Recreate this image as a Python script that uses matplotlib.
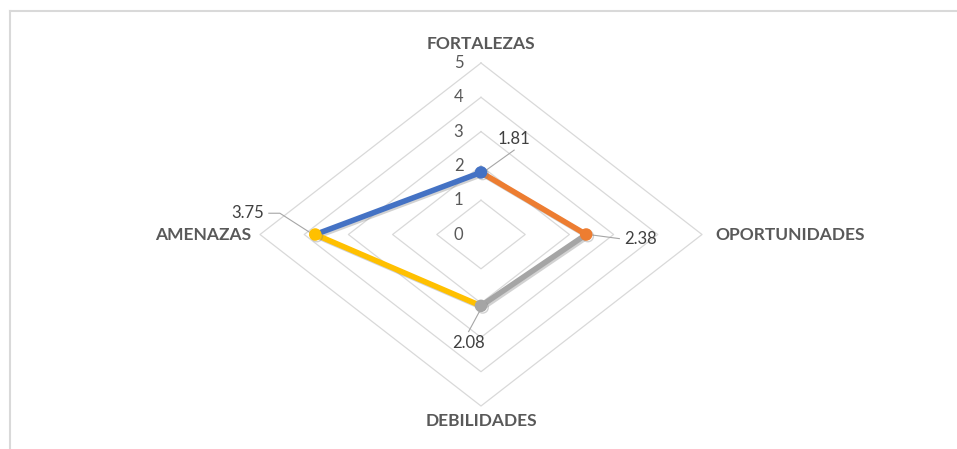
import numpy as np
import matplotlib
matplotlib.use("Agg")
import matplotlib.pyplot as plt
import matplotlib.patheffects as pe
from matplotlib.lines import Line2D

# categories clockwise from the top, and their scores
categories = ["FORTALEZAS", "OPORTUNIDADES", "DEBILIDADES", "AMENAZAS"]
values = [1.81, 2.38, 2.08, 3.75]
value_labels = ["1.81", "2.38", "2.08", "3.75"]
levels = [0, 1, 2, 3, 4, 5]
# each segment is drawn from the previous point into this one
seg_colors = ["#4472C4", "#ED7D31", "#A5A5A5", "#FFC000"]

plt.rcParams['font.family'] = ['Lato', 'DejaVu Sans']

fig = plt.figure(figsize=(9.57, 4.49), dpi=100)
ax = fig.add_axes([0, 0, 1, 1])
ax.set_xlim(-481 / 44.2, (957 - 481) / 44.2)
ax.set_ylim(-214.5 / 34.3, 234.5 / 34.3)
ax.axis("off")

# angles: top, right, bottom, left
ang = np.pi / 2 - np.arange(len(categories)) * np.pi / 2
ux, uy = np.cos(ang), np.sin(ang)
ux[np.abs(ux) < 1e-9] = 0
uy[np.abs(uy) < 1e-9] = 0

# grid diamonds
for lv in levels[1:]:
    gx = np.append(ux * lv, ux[0] * lv)
    gy = np.append(uy * lv, uy[0] * lv)
    ax.plot(gx, gy, color="#D9D9D9", lw=0.9, zorder=1)

# level tick labels
for lv in levels:
    ax.text(-0.4, lv, str(lv), ha="right", va="center", fontsize=12, color="#595959")

# category labels
cat_kw = dict(fontsize=12.5, fontweight="bold", color="#595959", va="center")
ax.text(0, 5.55, categories[0], ha="center", **cat_kw)
ax.text(5.3, 0, categories[1], ha="left", **cat_kw)
ax.text(0, -5.45, categories[2], ha="center", **cat_kw)
ax.text(-5.2, 0, categories[3], ha="right", **cat_kw)

px = np.array(values) * ux
py = np.array(values) * uy

shadow = [pe.SimpleLineShadow(offset=(1.2, -1.2), shadow_color="#7F7F7F", alpha=0.35),
          pe.Normal()]
n = len(values)
for i in range(n):
    j = (i - 1) % n
    ax.plot([px[j], px[i]], [py[j], py[i]], color=seg_colors[i], lw=4,
            solid_capstyle="round", path_effects=shadow, zorder=3)
for i in range(n):
    ax.plot(px[i], py[i], marker="o", ms=8, color=seg_colors[i], zorder=4,
            path_effects=shadow)

# data labels with leader lines (offsets in data units)
lead = "#A6A6A6"
lbl_kw = dict(fontsize=12, color="#404040", va="center")
# top
ax.plot([px[0] + 0.1, px[0] + 0.75], [py[0] + 0.05, py[0] + 0.65], color=lead, lw=0.8, zorder=2)
ax.text(px[0] + 0.75, py[0] + 0.98, value_labels[0], ha="center", **lbl_kw)
# right
ax.plot([px[1] + 0.05, px[1] + 0.75], [py[1], py[1] - 0.12], color=lead, lw=0.8, zorder=2)
ax.text(px[1] + 0.85, py[1] - 0.14, value_labels[1], ha="left", **lbl_kw)
# bottom
ax.plot([px[2], px[2] - 0.28], [py[2] - 0.08, py[2] - 0.75], color=lead, lw=0.8, zorder=2)
ax.text(px[2] - 0.28, py[2] - 1.08, value_labels[2], ha="center", **lbl_kw)
# left
ax.plot([px[3] - 0.05, px[3] - 0.8, px[3] - 1.05], [py[3], py[3] + 0.62, py[3] + 0.62],
        color=lead, lw=0.8, zorder=2)
ax.text(px[3] - 1.15, py[3] + 0.62, value_labels[3], ha="right", **lbl_kw)

# chart frame edges (top and left)
fig.add_artist(Line2D([9.5 / 957, 1], [1 - 10.5 / 449, 1 - 10.5 / 449],
                      transform=fig.transFigure, color="#D9D9D9", lw=1.5))
fig.add_artist(Line2D([9.5 / 957, 9.5 / 957], [0, 1 - 10.5 / 449],
                      transform=fig.transFigure, color="#D9D9D9", lw=1.5))

fig.savefig("out.png", dpi=100)
